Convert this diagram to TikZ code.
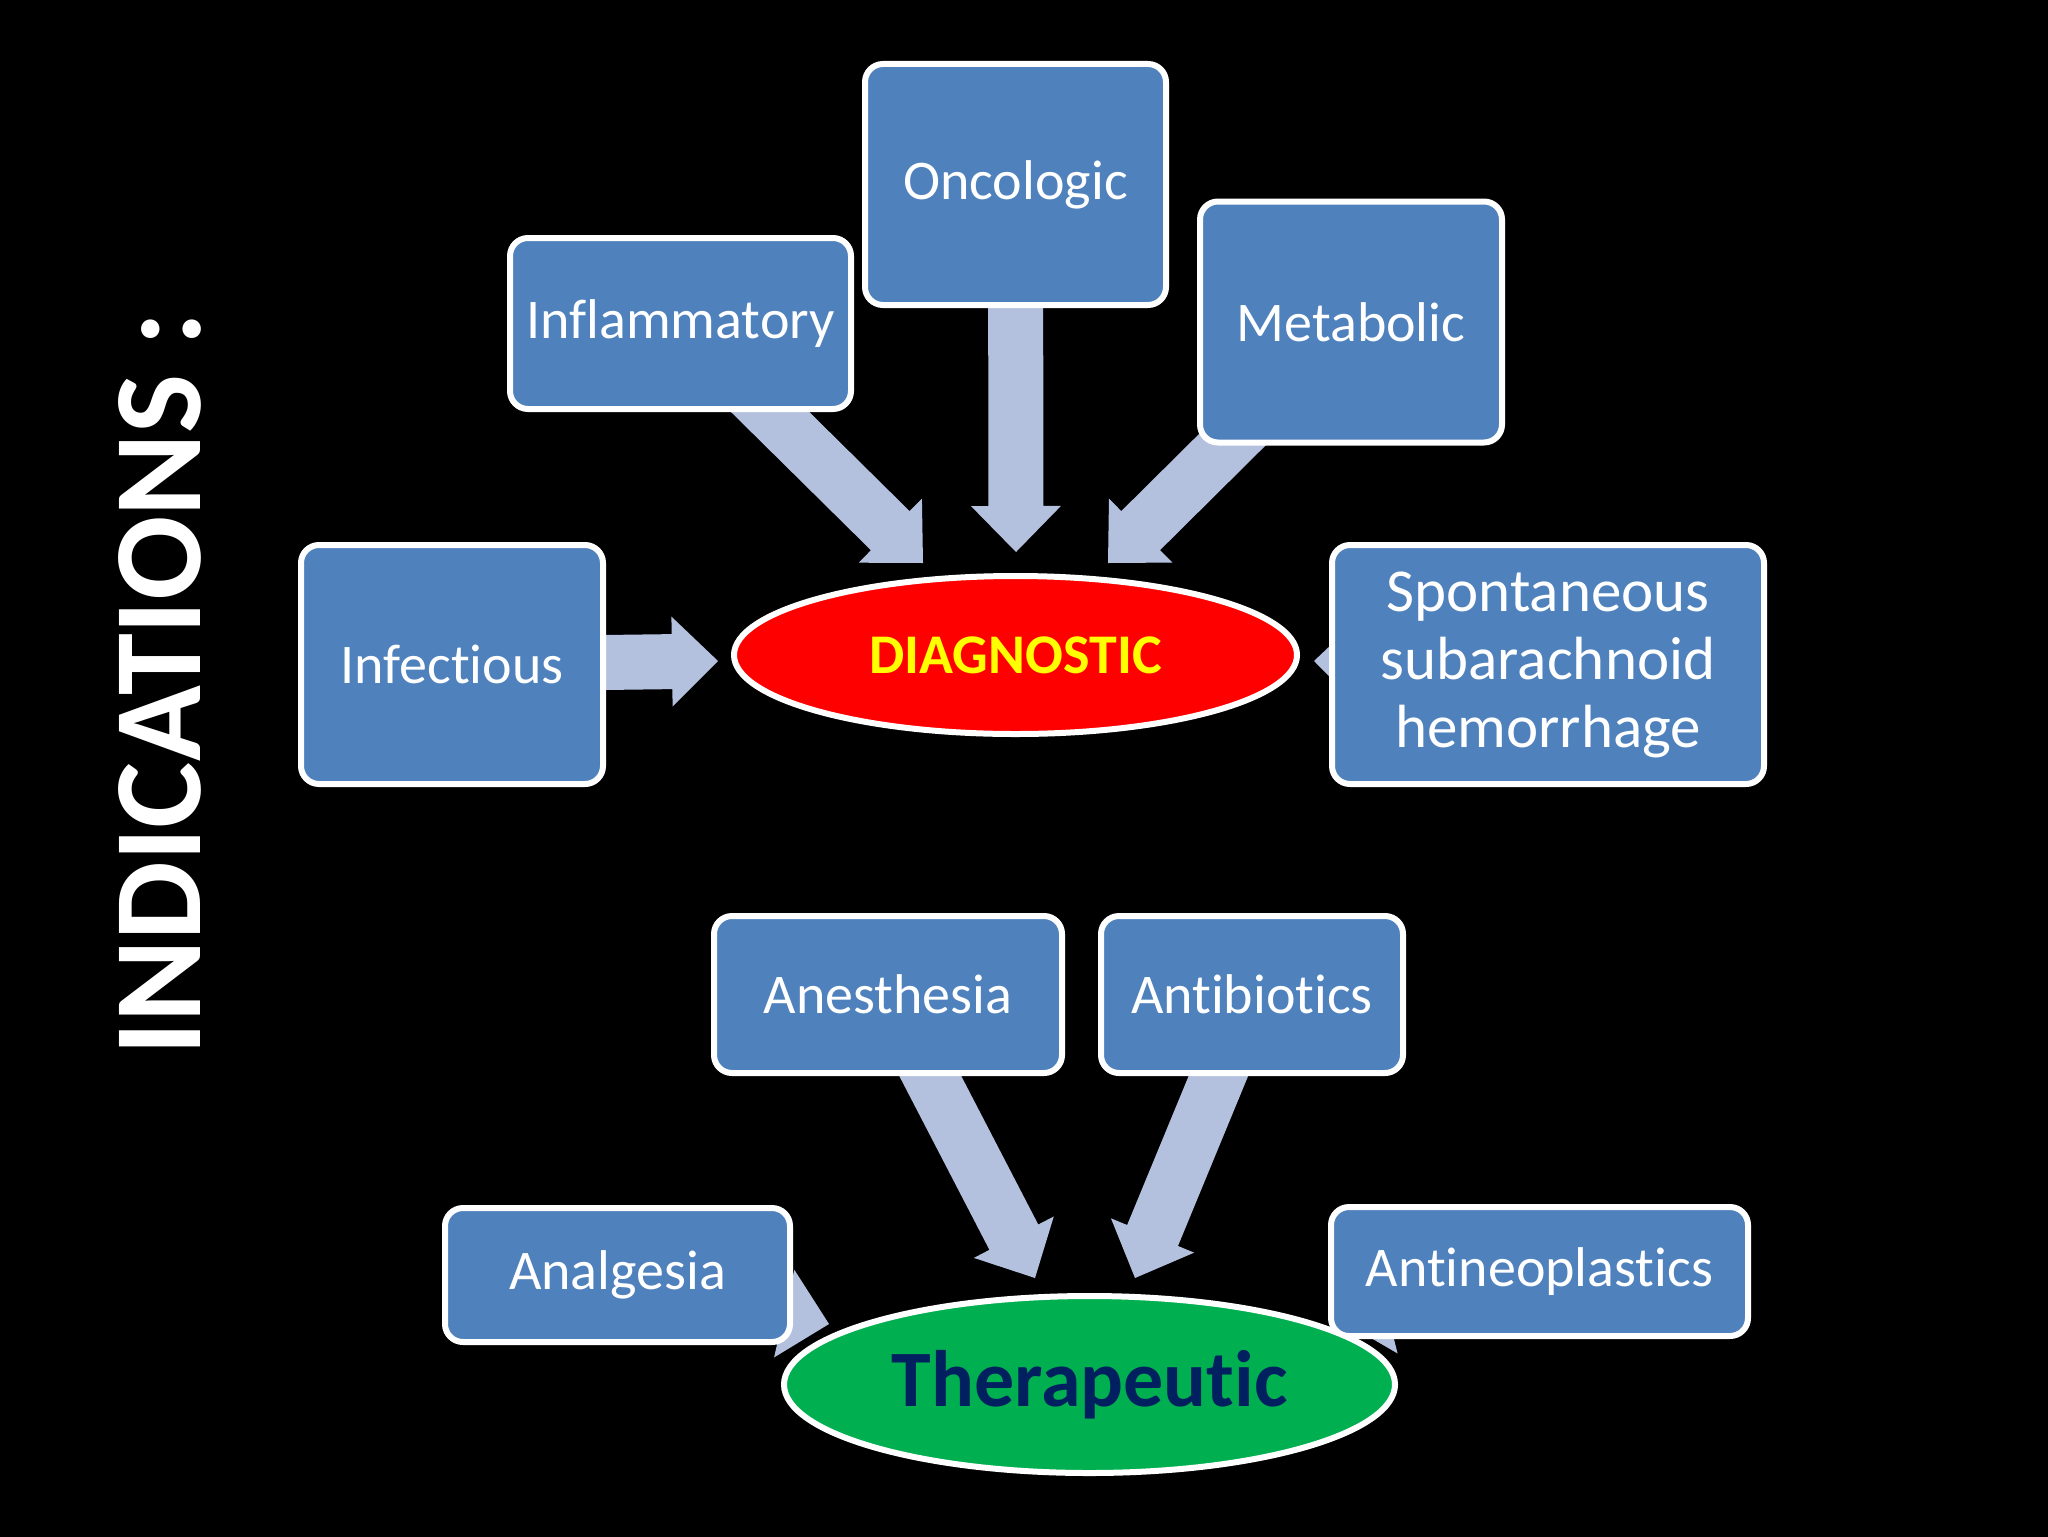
\documentclass[tikz,border=0pt]{standalone}
\usepackage{fontspec}
\setmainfont{Carlito}[Ligatures={NoCommon}]
\usetikzlibrary{calc,shapes.geometric}
\pgfdeclarelayer{bg}
\pgfdeclarelayer{arrowlayer}
\pgfsetlayers{bg,arrowlayer,main}
\definecolor{boxblue}{RGB}{79,129,189}
\definecolor{arrowfill}{RGB}{180,193,222}
\definecolor{thergreen}{RGB}{0,176,80}
\definecolor{thernavy}{RGB}{0,32,96}
\definecolor{diagred}{RGB}{255,0,0}
\definecolor{diagyellow}{RGB}{255,255,0}
\tikzset{
  box/.style={draw=white, line width=3pt, fill=boxblue, rounded corners=9pt,
    text=white, align=center, inner sep=0pt, font=\fontsize{28}{34}\selectfont},
  hub/.style={ellipse, draw=white, line width=3pt, inner sep=0pt, font=\bfseries},
  fatarrowstyle/.style={fill=arrowfill},
}
\newcommand\fatarrow[2]{%
  \path coordinate (hb) at ($(#2)!23pt!(#1.center)$)
        coordinate (s1) at ($(#1.center)!13.75pt!90:(#2)$)
        coordinate (s2) at ($(#1.center)!13.75pt!-90:(#2)$)
        coordinate (b1) at ($(hb)!13.75pt!90:(#2)$)
        coordinate (b2) at ($(hb)!13.75pt!-90:(#2)$)
        coordinate (h1) at ($(hb)!22.5pt!90:(#2)$)
        coordinate (h2) at ($(hb)!22.5pt!-90:(#2)$);
  \fill[fatarrowstyle] (s1) -- (b1) -- (h1) -- (#2) -- (h2) -- (b2) -- (s2) -- cycle;
}
\begin{document}
\begin{tikzpicture}[x=0.5pt,y=-0.5pt]
\useasboundingbox (0,0) rectangle (2048,1536);
\begin{pgfonlayer}{bg}
  \fill[black] (-20,-20) rectangle (2068,1556);
\end{pgfonlayer}

% title
\node[text=white, rotate=90, font=\bfseries\fontsize{62.5}{72}\selectfont, inner sep=0pt]
  (title) at (160,684) {INDICATIONS :};

% hubs
\node[hub, fill=diagred, text=diagyellow, minimum width=281.5pt, minimum height=79pt,
  font=\bfseries\fontsize{28}{34}\selectfont] (diag) at (1015.5,655) {DIAGNOSTIC};
\node[hub, fill=thergreen, text=thernavy, minimum width=305.5pt, minimum height=88.5pt,
  font=\bfseries\fontsize{40}{48}\selectfont] (ther) at (1089.5,1384.5) {Therapeutic};

% boxes
\node[box, minimum width=150.5pt, minimum height=120.5pt] (onc) at (1015.5,184.5) {Oncologic};
\node[box, minimum width=170.5pt, minimum height=85.5pt] (infl) at (680.5,323.5) {Inflammatory};
\node[box, minimum width=151pt, minimum height=120.5pt] (met) at (1351,322) {Metabolic};
\node[box, minimum width=151pt, minimum height=119.5pt] (inf) at (452,664.5) {Infectious};
\node[box, minimum width=216pt, minimum height=119.5pt, font=\fontsize{30.5}{34}\selectfont]
  (spo) at (1548,664.5) {Spontaneous\\subarachnoid\\hemorrhage};
\node[box, minimum width=174pt, minimum height=78.5pt] (anes) at (888,994.5) {Anesthesia};
\node[box, minimum width=151pt, minimum height=78.5pt] (anti) at (1252,994.5) {Antibiotics};
\node[box, minimum width=172.5pt, minimum height=67pt] (analg) at (617.5,1275) {Analgesia};
\node[box, minimum width=208.5pt, minimum height=64.5pt] (neo) at (1539.5,1271.5) {Antineoplastics};

% arrow tips (just outside the hubs)
\coordinate (tinf) at (718,661);
\coordinate (tinfl) at (923,563);
\coordinate (tonc) at (1016,552);
\coordinate (tmet) at (1108,563);
\coordinate (tspo) at (1314,661);
\coordinate (tanes) at (1035,1278);
\coordinate (tanti) at (1135,1278);
\coordinate (tanalg) at (829,1324);
\coordinate (tneo) at (1342,1321);

\begin{pgfonlayer}{arrowlayer}
  \fatarrow{inf}{tinf}
  \fatarrow{infl}{tinfl}
  \fatarrow{onc}{tonc}
  \fatarrow{met}{tmet}
  \fatarrow{spo}{tspo}
  \fatarrow{anes}{tanes}
  \fatarrow{anti}{tanti}
  \fatarrow{analg}{tanalg}
  \fatarrow{neo}{tneo}
\end{pgfonlayer}
\end{tikzpicture}
\end{document}
